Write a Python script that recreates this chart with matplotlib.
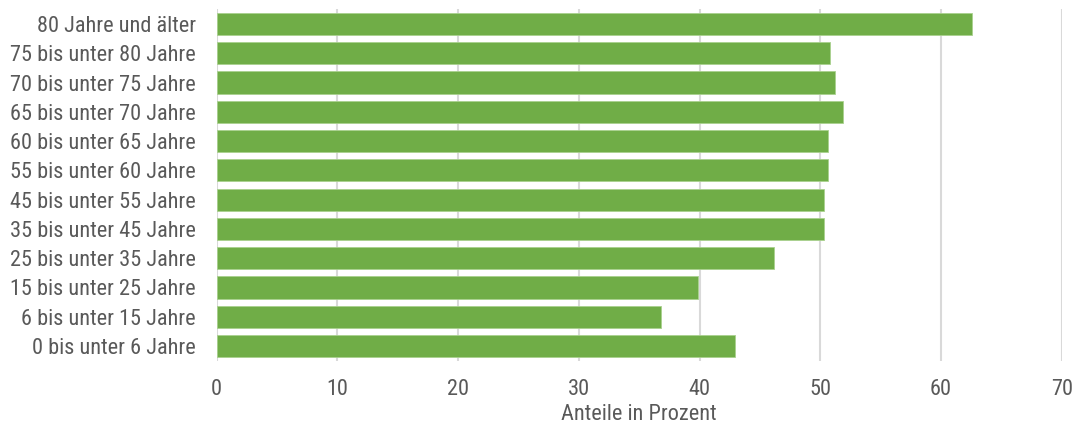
import matplotlib

matplotlib.use("Agg")
import matplotlib.pyplot as plt

# age groups, bottom to top as drawn
categories = [
    "0 bis unter 6 Jahre",
    "6 bis unter 15 Jahre",
    "15 bis unter 25 Jahre",
    "25 bis unter 35 Jahre",
    "35 bis unter 45 Jahre",
    "45 bis unter 55 Jahre",
    "55 bis unter 60 Jahre",
    "60 bis unter 65 Jahre",
    "65 bis unter 70 Jahre",
    "70 bis unter 75 Jahre",
    "75 bis unter 80 Jahre",
    "80 Jahre und älter",
]
values = [42.9, 36.8, 39.9, 46.2, 50.3, 50.3, 50.6, 50.6, 51.9, 51.2, 50.8, 62.6]
xticks = [0, 10, 20, 30, 40, 50, 60, 70]

GREEN = "#70AD47"
TEXT = "#595959"
GRID = "#D9D9D9"

plt.rcParams["font.family"] = ["Roboto Condensed", "DejaVu Sans"]

fig = plt.figure(figsize=(10.79, 4.28), dpi=100)
ax = fig.add_axes([0.2007, 0.1575, 0.7833, 0.8205])

ax.barh(range(len(categories)), values, height=0.76, color=GREEN,
        edgecolor="#A9D18E", linewidth=0.6, zorder=3)

ax.set_xlim(0, 70)
ax.set_ylim(-0.5, len(categories) - 0.5)
ax.set_xticks(xticks)
ax.set_xticklabels([str(t) for t in xticks])
ax.set_yticks(range(len(categories)))
ax.set_yticklabels(categories)

ax.grid(axis="x", color=GRID, linewidth=1.5, zorder=0)
ax.grid(axis="y", visible=False)
for spine in ax.spines.values():
    spine.set_visible(False)

ax.tick_params(axis="both", length=0, colors=TEXT, labelsize=16)
ax.tick_params(axis="y", pad=15)
ax.tick_params(axis="x", pad=13)
ax.set_xlabel("Anteile in Prozent", color=TEXT, fontsize=16, labelpad=3)

fig.savefig("out.png", dpi=100)
